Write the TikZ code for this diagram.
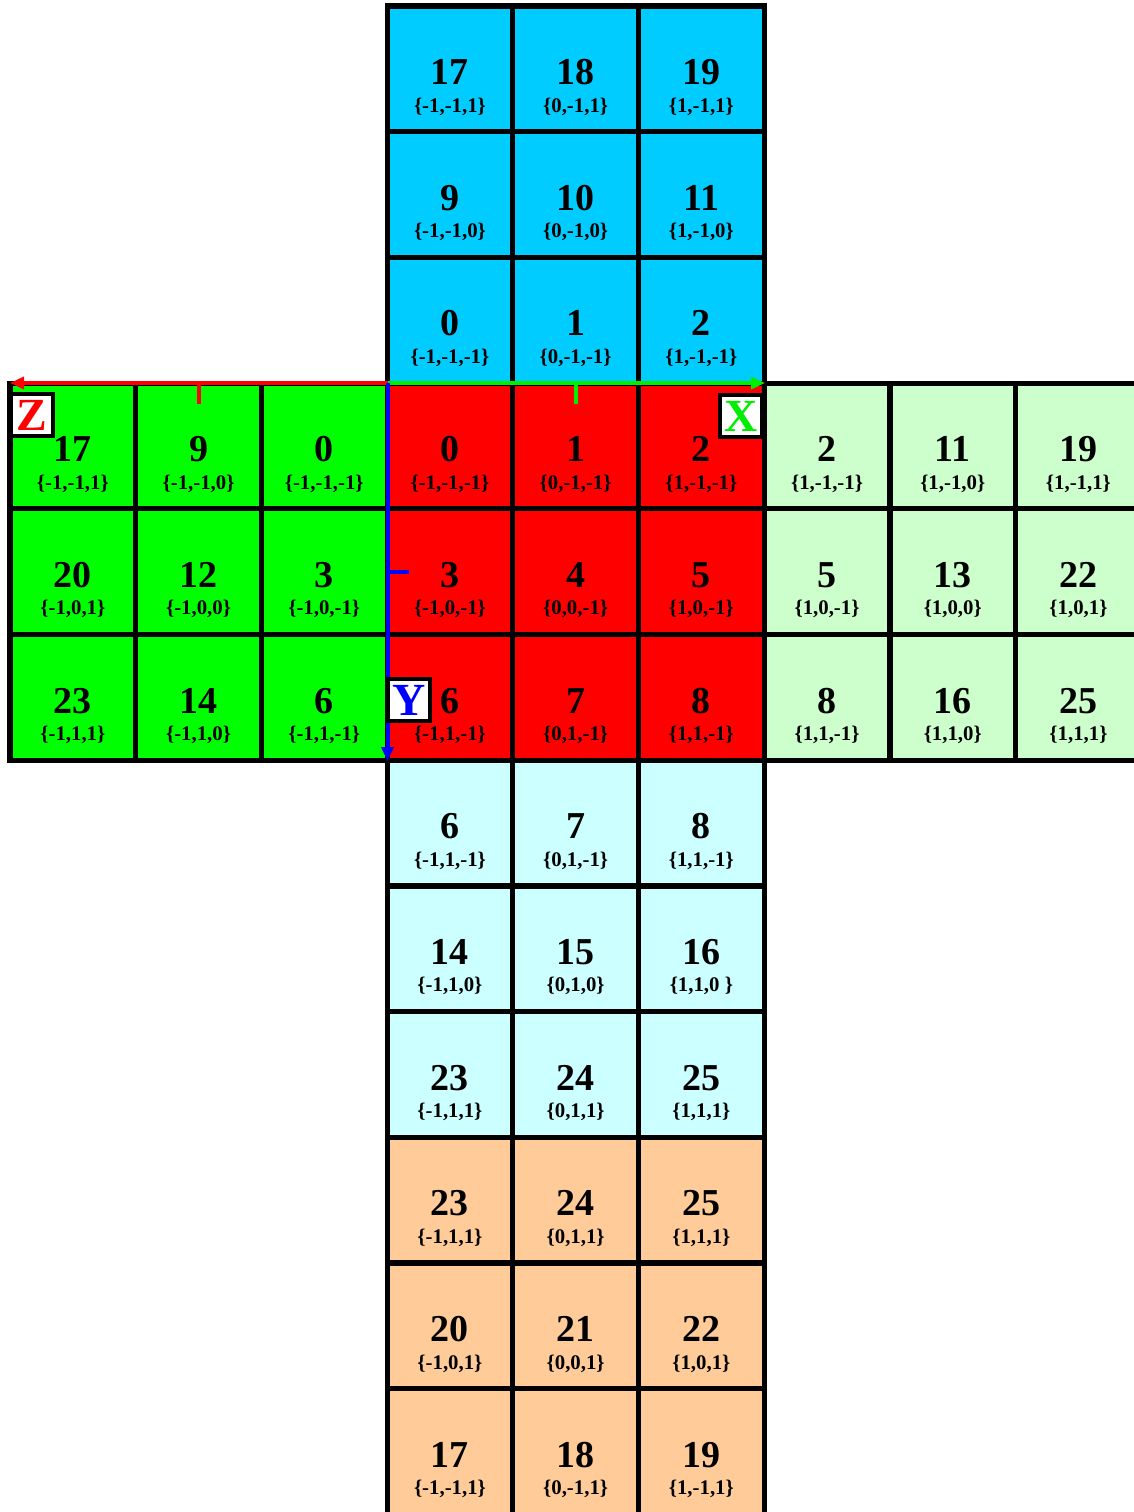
\documentclass[tikz,border=0pt]{standalone}
\usepackage{fontspec}
\setmainfont{Liberation Serif}
\usetikzlibrary{arrows.meta}
\definecolor{topc}{HTML}{00CCFF}
\definecolor{frontc}{HTML}{FF0000}
\definecolor{leftc}{HTML}{00FF00}
\definecolor{rightc}{HTML}{CCFFCC}
\definecolor{botc}{HTML}{CCFFFF}
\definecolor{backc}{HTML}{FFCC99}
\definecolor{axgreen}{HTML}{00EE00}
\tikzset{
  cellbox/.style={draw=black,line width=2.6pt,minimum size=62.85pt,inner sep=0pt},
  numtxt/.style={anchor=base,inner sep=0pt,font=\fontsize{19}{19}\selectfont\bfseries},
  crdtxt/.style={anchor=base,inner sep=0pt,font=\fontsize{10.4}{11}\selectfont\bfseries},
  axis/.style={line width=2pt,-{Triangle[length=7pt,width=6pt]}},
  tick/.style={line width=2pt},
  axlabel/.style={draw=black,fill=white,line width=1.8pt,minimum size=21pt,inner sep=0pt,font=\fontsize{23}{23}\selectfont\bfseries}
}
\newcommand\mycell[5]{%
  \pgfmathsetmacro\cx{72.85+125.7*#1}%
  \pgfmathsetmacro\ty{6+125.7*#2}%
  \node[cellbox,fill=#3] (c#1-#2) at (\cx,\ty+62.85) {};
  \node[numtxt] (n#1-#2) at (\cx,\ty+78.5) {#4};
  \node[crdtxt] (p#1-#2) at (\cx,\ty+106) {\{#5\}};
}
\begin{document}
\begin{tikzpicture}[x=0.5pt,y=-0.5pt]
\useasboundingbox (0,0) rectangle (1134,1512);
\clip (0,0) rectangle (1134,1512);
% top
\mycell{3}{0}{topc}{17}{-1,-1,1}
\mycell{4}{0}{topc}{18}{0,-1,1}
\mycell{5}{0}{topc}{19}{1,-1,1}
\mycell{3}{1}{topc}{9}{-1,-1,0}
\mycell{4}{1}{topc}{10}{0,-1,0}
\mycell{5}{1}{topc}{11}{1,-1,0}
\mycell{3}{2}{topc}{0}{-1,-1,-1}
\mycell{4}{2}{topc}{1}{0,-1,-1}
\mycell{5}{2}{topc}{2}{1,-1,-1}
% left
\mycell{0}{3}{leftc}{17}{-1,-1,1}
\mycell{1}{3}{leftc}{9}{-1,-1,0}
\mycell{2}{3}{leftc}{0}{-1,-1,-1}
\mycell{0}{4}{leftc}{20}{-1,0,1}
\mycell{1}{4}{leftc}{12}{-1,0,0}
\mycell{2}{4}{leftc}{3}{-1,0,-1}
\mycell{0}{5}{leftc}{23}{-1,1,1}
\mycell{1}{5}{leftc}{14}{-1,1,0}
\mycell{2}{5}{leftc}{6}{-1,1,-1}
% front
\mycell{3}{3}{frontc}{0}{-1,-1,-1}
\mycell{4}{3}{frontc}{1}{0,-1,-1}
\mycell{5}{3}{frontc}{2}{1,-1,-1}
\mycell{3}{4}{frontc}{3}{-1,0,-1}
\mycell{4}{4}{frontc}{4}{0,0,-1}
\mycell{5}{4}{frontc}{5}{1,0,-1}
\mycell{3}{5}{frontc}{6}{-1,1,-1}
\mycell{4}{5}{frontc}{7}{0,1,-1}
\mycell{5}{5}{frontc}{8}{1,1,-1}
% right
\mycell{6}{3}{rightc}{2}{1,-1,-1}
\mycell{7}{3}{rightc}{11}{1,-1,0}
\mycell{8}{3}{rightc}{19}{1,-1,1}
\mycell{6}{4}{rightc}{5}{1,0,-1}
\mycell{7}{4}{rightc}{13}{1,0,0}
\mycell{8}{4}{rightc}{22}{1,0,1}
\mycell{6}{5}{rightc}{8}{1,1,-1}
\mycell{7}{5}{rightc}{16}{1,1,0}
\mycell{8}{5}{rightc}{25}{1,1,1}
% bottom
\mycell{3}{6}{botc}{6}{-1,1,-1}
\mycell{4}{6}{botc}{7}{0,1,-1}
\mycell{5}{6}{botc}{8}{1,1,-1}
\mycell{3}{7}{botc}{14}{-1,1,0}
\mycell{4}{7}{botc}{15}{0,1,0}
\mycell{5}{7}{botc}{16}{1,1,0 }
\mycell{3}{8}{botc}{23}{-1,1,1}
\mycell{4}{8}{botc}{24}{0,1,1}
\mycell{5}{8}{botc}{25}{1,1,1}
% back
\mycell{3}{9}{backc}{23}{-1,1,1}
\mycell{4}{9}{backc}{24}{0,1,1}
\mycell{5}{9}{backc}{25}{1,1,1}
\mycell{3}{10}{backc}{20}{-1,0,1}
\mycell{4}{10}{backc}{21}{0,0,1}
\mycell{5}{10}{backc}{22}{1,0,1}
\mycell{3}{11}{backc}{17}{-1,-1,1}
\mycell{4}{11}{backc}{18}{0,-1,1}
\mycell{5}{11}{backc}{19}{1,-1,1}
% axes
\coordinate (O) at (387.5,383);
\coordinate (Zend) at (10,383);
\coordinate (Xend) at (765,383);
\coordinate (Yend) at (387.5,761);
\coordinate (Zt1) at (199,383);
\coordinate (Zt2) at (199,404);
\coordinate (Xt1) at (576,383);
\coordinate (Xt2) at (576,404);
\coordinate (Yt1) at (387.5,572);
\coordinate (Yt2) at (409,572);
\draw[axis,red] (O) -- (Zend);
\draw[axis,axgreen] (O) -- (Xend);
\draw[axis,blue] (O) -- (Yend);
\draw[tick,red] (Zt1) -- (Zt2);
\draw[tick,axgreen] (Xt1) -- (Xt2);
\draw[tick,blue] (Yt1) -- (Yt2);
\node[axlabel,text=red] (Z) at (32,415) {Z};
\node[axlabel,text=axgreen] (X) at (741,416) {X};
\node[axlabel,text=blue] (Y) at (409,700) {Y};
\end{tikzpicture}
\end{document}
